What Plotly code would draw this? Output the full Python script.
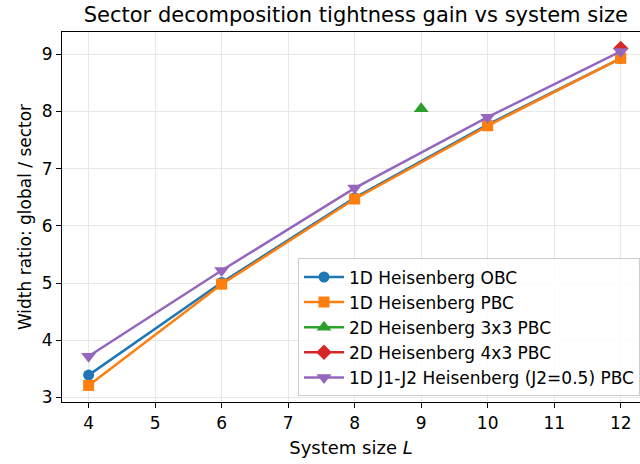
import plotly.graph_objects as go

L_1d = [4, 6, 8, 10, 12]
obc = [3.39, 5.01, 6.49, 7.77, 8.93]
pbc = [3.21, 4.98, 6.47, 7.75, 8.93]
L_3x3 = [9]
h3x3 = [8.05]
L_4x3 = [12]
h4x3 = [9.10]
j1j2 = [3.72, 5.22, 6.66, 7.90, 9.05]

names = ["1D Heisenberg OBC", "1D Heisenberg PBC", "2D Heisenberg 3x3 PBC",
         "2D Heisenberg 4x3 PBC", "1D J1-J2 Heisenberg (J2=0.5) PBC"]
colors = ["#1f77b4", "#ff7f0e", "#2ca02c", "#d62728", "#9467bd"]
symbols = ["circle", "square", "triangle-up", "diamond", "triangle-down"]
msizes = [11, 11, 13, 12, 13]

series = [(L_1d, obc), (L_1d, pbc), (L_3x3, h3x3), (L_4x3, h4x3), (L_1d, j1j2)]

fig = go.Figure()
for i, ((x, y), n, c, s, ms) in enumerate(zip(series, names, colors, symbols, msizes)):
    fig.add_trace(go.Scatter(x=x, y=y, name=n, mode="lines+markers",
                             legendgroup=f"g{i}",
                             line=dict(color=c, width=2.5),
                             marker=dict(color=c, symbol=s, size=ms)))

axis_common = dict(showline=True, linecolor="black", linewidth=1.2, mirror=True,
                   ticks="outside", ticklen=5, tickcolor="black",
                   showgrid=True, gridcolor="#e8e8e8", gridwidth=1,
                   zeroline=False, automargin=False,
                   tickfont=dict(size=17, color="black"))

fig.update_layout(
    width=640, height=464,
    margin=dict(l=62, r=0, t=32, b=62, autoexpand=False),
    paper_bgcolor="white", plot_bgcolor="white",
    font=dict(family="DejaVu Sans", color="black"),
    title=dict(text="Sector decomposition tightness gain vs system size",
               x=0.556, xanchor="center", y=0.968, yanchor="middle",
               font=dict(size=21)),
    xaxis=dict(range=[3.6, 12.29], tickvals=[4, 5, 6, 7, 8, 9, 10, 11, 12],
               title=dict(text="System size <i>L</i>", font=dict(size=18), standoff=9),
               **axis_common),
    yaxis=dict(range=[2.92, 9.39], tickvals=[3, 4, 5, 6, 7, 8, 9],
               title=dict(text="Width ratio: global / sector", font=dict(size=17), standoff=5),
               **axis_common),
    legend=dict(x=1.0, y=0.015, xanchor="right", yanchor="bottom",
                bgcolor="rgba(255,255,255,0.8)", bordercolor="#cccccc", borderwidth=1,
                font=dict(size=17), tracegroupgap=0, itemwidth=40),
)

fig.write_html(
    "out.html",
    config={"displayModeBar": False},
    post_script="document.body.style.margin='0';document.body.style.overflow='hidden';",
)
